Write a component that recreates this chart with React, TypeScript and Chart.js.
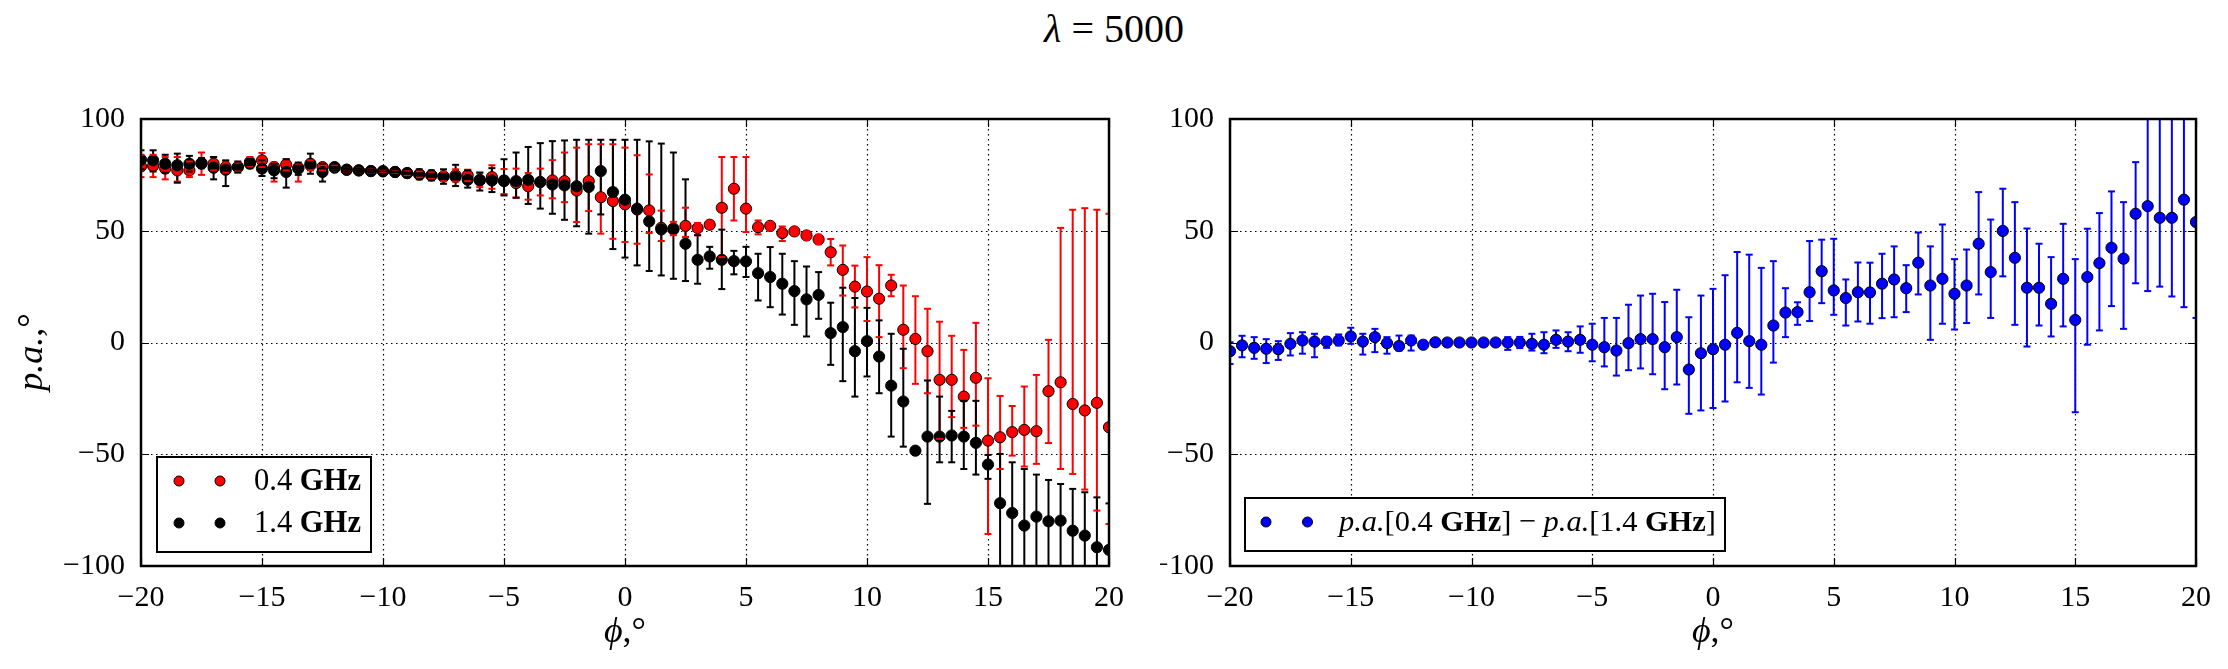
import React, { useEffect, useRef } from "react";
import { Chart, registerables } from "chart.js";

Chart.register(...registerables);

// ---------- data ----------
const phi = [
  -20, -19.5, -19, -18.5, -18, -17.5, -17, -16.5, -16, -15.5,
  -15, -14.5, -14, -13.5, -13, -12.5, -12, -11.5, -11, -10.5,
  -10, -9.5, -9, -8.5, -8, -7.5, -7, -6.5, -6, -5.5,
  -5, -4.5, -4, -3.5, -3, -2.5, -2, -1.5, -1, -0.5,
  0, 0.5, 1, 1.5, 2, 2.5, 3, 3.5, 4, 4.5,
  5, 5.5, 6, 6.5, 7, 7.5, 8, 8.5, 9, 9.5,
  10, 10.5, 11, 11.5, 12, 12.5, 13, 13.5, 14, 14.5,
  15, 15.5, 16, 16.5, 17, 17.5, 18, 18.5, 19, 19.5,
  20,
];

// p.a. at 0.4 GHz
const pa04 = [
  78.8, 79, 77.8, 77, 77, 80, 80, 78.5, 78.5, 80.7,
  81.5, 78.5, 79.6, 78.2, 79.3, 78.5, 78.2, 77.3, 77, 76.7,
  76.6, 76.3, 75.8, 75.2, 74.8, 74.3, 74.8, 74.8, 72.8, 74,
  72.2, 71.3, 69.9, 71.8, 72.5, 72.2, 68, 72.2, 65, 63.3,
  61.8, 59.5, 59.1, 51.3, 51, 52.2, 51.2, 52.7, 60.3, 68.8,
  59.9, 51.6, 52.2, 49, 49.7, 47.9, 46.1, 40.4, 32.5, 25,
  22.8, 19.6, 25.5, 5.7, 1.6, -3.9, -16.7, -16.7, -24.2, -15.8,
  -43.9, -42.4, -40.1, -39.1, -39.7, -21.8, -17.8, -27.5, -30.4, -27,
  -37.9,
];
const pa04Low = [
  74, 74, 73, 72, 74, 75, 77, 76, 76.5, 78.5,
  78.5, 72, 77, 72, 77, 77, 77, 76.5, 76.2, 75.9,
  75.8, 75.3, 74.6, 73.8, 73.2, 72.2, 72, 72.2, 69.5, 68.8,
  66.4, 64.8, 63.9, 65.8, 64.5, 62.8, 53.9, 58.8, 48.7, 46.4,
  45, 44.2, 49, 45.4, 48, 47.2, 48, 51, 38.2, 54.6,
  49.4, 48.4, 50.5, 45.4, 48, 46, 44, 34.5, 21, 15.7,
  9.6, 2.4, 20.7, -11.5, -18.5, -22.7, -43.1, -33.4, -38.2, -37.2,
  -85.7, -56.6, -50.6, -55.5, -54.3, -45, -56.6, -58.8, -65.8, -75.2,
  -81.2,
];
const pa04High = [
  84, 84, 83, 83, 81, 85, 83, 81, 80.5, 83,
  84.8, 80.5, 82, 80, 81.5, 80, 79.5, 78.1, 77.8, 77.5,
  77.4, 77.3, 77, 76.6, 76.4, 76.4, 77.5, 77.3, 76, 79.3,
  77.6, 77.8, 75.8, 77.8, 81.6, 85, 87.2, 88.7, 88.7, 88.7,
  87.2, 83.8, 75.2, 59, 54, 60.3, 53.5, 54.5, 83, 83,
  83, 54.6, 54, 51.9, 51.5, 49.8, 48.2, 46.3, 43.4, 34.4,
  38.2, 34.6, 30.3, 25.5, 20.7, 15.1, 9.3, 3, -3.3, 8.8,
  -16, -23.9, -28.4, -19.7, -14.5, 1.2, 51.3, 59.4, 60.1, 59.4,
  57.6,
];

// p.a. at 1.4 GHz
const pa14 = [
  81.8, 81.5, 80, 79.3, 80, 80.3, 78.2, 77.3, 78.5, 80,
  77.8, 77, 76.3, 77.8, 80, 76.3, 78.5, 77.3, 77, 76.7,
  76.6, 76.3, 75.8, 75.2, 74.8, 74.3, 74, 72.8, 72.5, 72.5,
  72.5, 72.2, 72.8, 71.8, 70.7, 70.3, 69.9, 69.6, 76.7, 67.3,
  63.9, 59.9, 54.2, 50.6, 50.6, 44.2, 37, 38.5, 37, 36.4,
  36.3, 31, 29.3, 26.3, 23, 19.3, 21.3, 4.2, 6.9, -3.9,
  0.6, -6.3, -19.3, -26.4, -48.4, -42.1, -42.1, -41.6, -42.1, -44.9,
  -54.6, -71.9, -76.3, -81.9, -77.9, -80, -79.7, -84.2, -86.4, -91.6,
  -92.8,
];
const pa14Low = [
  77.5, 76.5, 76, 71.5, 76.5, 78, 73, 70, 76, 78,
  74.5, 73.5, 69.3, 75, 75.5, 72, 77, 76.5, 76.3, 76,
  75.5, 75, 74, 73, 72.5, 71, 70, 69.3, 68, 67.3,
  65.8, 64.8, 62, 59.9, 57.6, 54.9, 52, 48.7, 57.3, 41.8,
  38, 34.5, 32, 30, 28.5, 27.5, 26.3, 33, 23.9, 30.5,
  29.3, 18.8, 15.8, 12.5, 7.9, 2.7, 10.6, -10, -17.3, -24.2,
  -15.2, -22.7, -42.1, -46.6, -48.4, -72.2, -53.6, -53.6, -56.6, -59.1,
  -61, -110, -110, -110, -110, -110, -110, -110, -110, -110,
  -110,
];
const pa14High = [
  86, 86, 84, 84.5, 83.5, 82.5, 83, 81.5, 81, 82,
  81.5, 80, 82, 80.5, 84.5, 80, 80, 78, 77.7, 77.4,
  77.7, 77.5, 77.5, 77.5, 77, 77.5, 79.5, 77, 76, 78,
  82, 85, 87.5, 89.2, 90.1, 90.4, 90.7, 90.7, 90.7, 90.7,
  90.7, 90.7, 90, 89, 85, 73, 48, 42.8, 50.5, 41,
  42.8, 39.7, 42.7, 39.7, 36.4, 34, 31.5, 17.8, 24.5, 19.9,
  15.5, 9.9, 3.9, -2.8, -48.4, -17, -24.2, -30.6, -26.1, -26.1,
  -50.3, -49.9, -53.6, -56.6, -59.1, -61.5, -63.3, -65.5, -67, -69.3,
  -72,
];

// difference p.a.[0.4] - p.a.[1.4]
const paDiff = [
  -3.9, -1.3, -2.4, -2.8, -3, -0.6, 0.9, 0.4, 0.4, 0.9,
  2.7, 0.4, 2.4, -0.3, -1.6, 0.9, -1, 0.1, 0, 0,
  0, 0, 0, 0, 0, -0.6, -1, 1.2, 0.4, 1.2,
  -1, -2.1, -3.6, -0.3, 1.5, 1.5, -2.1, 2.4, -12.1, -4.8,
  -3, -1, 4.3, 0.6, -1, 7.6, 13.4, 13.6, 22.5, 31.9,
  23.3, 19.9, 22.5, 22.4, 26.3, 28.2, 24.3, 35.7, 25.5, 28.5,
  21.8, 25.5, 44.2, 31.5, 49.9, 37.9, 24.5, 24.5, 17.3, 28.5,
  10.1, 29.3, 35.5, 42.4, 37.5, 57.6, 61, 55.8, 55.8, 63.9,
  53.9,
];
const paDiffLow = [
  -9.6, -6.6, -7.3, -9.2, -7.8, -5.8, -5, -6.6, -2.4, -1.3,
  -0.6, -5.4, -4.3, -5, -3.6, -3.6, -2.5, -1, -1, -1,
  -1, -1, -1.5, -3.3, -2.5, -3.6, -4.8, -2.4, -3.9, -4.6,
  -8.4, -10.7, -14.8, -12.4, -11.6, -14.2, -20.9, -18.8, -31.9, -30.4,
  -29.3, -26.4, -17.8, -20.3, -23.3, -9, 2.4, 7.9, 9.6, 17.6,
  12.4, 7.6, 9.4, 8.4, 10.9, 11.3, 13.6, 21.5, 1.2, 8.4,
  5.8, 8.7, 21.5, 11, 29.6, 7.9, -1.8, 7.6, 2.7, 7.2,
  -31.2, -1, 5.4, 16.3, 6.1, 26.5, 23, 25, 20.6, 15.8,
  11,
];
const paDiffHigh = [
  0.1, 3, 2.4, 1.5, 0.6, 4.2, 4.6, 3.9, 2.4, 3.6,
  6.6, 3.9, 6.1, 2.4, 3.1, 3.1, 0.5, 1.2, 1, 1,
  1, 1, 1.5, 2.4, 2.5, 3.9, 4.6, 5.4, 4.6, 7.2,
  8.4, 11, 11, 16.9, 21, 21.8, 18.1, 23.6, 11.3, 21,
  24, 30.1, 40.5, 39.3, 33.4, 36.4, 24.3, 18, 45.4, 46,
  46.4, 28.2, 35.8, 35.7, 39.7, 43, 34.6, 49.2, 43, 52.8,
  37.3, 41.6, 67.3, 55, 68.8, 62.8, 51, 44.2, 38.2, 53.1,
  37.3, 50.9, 57.9, 67.6, 62.8, 80.7, 110, 110, 110, 110,
  110,
];

const xTicks = [-20, -15, -10, -5, 0, 5, 10, 15, 20];
const yTicks = [-100, -50, 0, 50, 100];

// ---------- styling ----------
const FONT = '"Liberation Serif", "DejaVu Serif", serif';
const fmt = (v: number | string) => String(v).replace("-", "\u2212");

type Seg = { text: string; style: "normal" | "italic" | "bold" };
type Series = { color: string; values: number[]; lo: number[]; hi: number[]; legend: Seg[] };

type PanelCfg = {
  canvasLeft: number;
  canvasWidth: number;
  areaLeft: number;
  areaRight: number;
  series: Series[];
  showYTitle: boolean;
  legend: {
    dx: number;
    topFromBottom: number;
    width: number;
    height: number;
    markerDx: number[];
    textDx: number;
    rowFromBottom: number[];
    textWidth: number;
  };
};

const AREA_TOP = 119;
const AREA_BOTTOM = 566;
const H = 669;

function segFont(style: string, size: number) {
  if (style === "italic") return `italic ${size}px ${FONT}`;
  if (style === "bold") return `bold ${size}px ${FONT}`;
  return `${size}px ${FONT}`;
}

function drawSegs(ctx: CanvasRenderingContext2D, segs: Seg[], x: number, y: number, size: number) {
  let cx = x;
  for (const s of segs) {
    ctx.font = segFont(s.style, size);
    ctx.fillText(s.text, cx, y);
    cx += ctx.measureText(s.text).width;
  }
}
function segsWidth(ctx: CanvasRenderingContext2D, segs: Seg[], size: number) {
  let w = 0;
  for (const s of segs) {
    ctx.font = segFont(s.style, size);
    w += ctx.measureText(s.text).width;
  }
  return w;
}

function makePlugin(cfg: PanelCfg) {
  return {
    id: "panelDecor",
    beforeDatasetsDraw(chart: any) {
      const { ctx, chartArea: ca, scales } = chart;
      const xs = scales.x;
      const ys = scales.y;
      ctx.save();
      // dotted grid
      ctx.strokeStyle = "#000";
      ctx.lineWidth = 1.2;
      ctx.setLineDash([1.5, 3.5]);
      for (const t of xTicks) {
        const px = Math.round(xs.getPixelForValue(t)) + 0.5;
        if (px <= ca.left + 2 || px >= ca.right - 2) continue;
        ctx.beginPath();
        ctx.moveTo(px, ca.top);
        ctx.lineTo(px, ca.bottom);
        ctx.stroke();
      }
      for (const t of yTicks) {
        const py = Math.round(ys.getPixelForValue(t)) + 0.5;
        if (py <= ca.top + 2 || py >= ca.bottom - 2) continue;
        ctx.beginPath();
        ctx.moveTo(ca.left, py);
        ctx.lineTo(ca.right, py);
        ctx.stroke();
      }
      ctx.setLineDash([]);
      // error bar stems
      ctx.beginPath();
      ctx.rect(ca.left, ca.top, ca.right - ca.left, ca.bottom - ca.top);
      ctx.clip();
      ctx.lineWidth = 2;
      for (const s of cfg.series) {
        ctx.strokeStyle = s.color;
        for (let i = 0; i < phi.length; i++) {
          if (s.lo[i] === s.hi[i]) continue;
          const px = xs.getPixelForValue(phi[i]);
          ctx.beginPath();
          ctx.moveTo(px, ys.getPixelForValue(s.lo[i]));
          ctx.lineTo(px, ys.getPixelForValue(s.hi[i]));
          ctx.stroke();
        }
      }
      ctx.restore();
    },
    afterDatasetsDraw(chart: any) {
      const { ctx, chartArea: ca, scales } = chart;
      const xs = scales.x;
      const ys = scales.y;
      ctx.save();
      ctx.beginPath();
      ctx.rect(ca.left, ca.top, ca.right - ca.left, ca.bottom - ca.top);
      ctx.clip();
      // caps
      ctx.lineWidth = 2;
      for (const s of cfg.series) {
        ctx.strokeStyle = s.color;
        for (let i = 0; i < phi.length; i++) {
          if (s.lo[i] === s.hi[i]) continue;
          const px = xs.getPixelForValue(phi[i]);
          for (const v of [s.lo[i], s.hi[i]]) {
            const py = ys.getPixelForValue(v);
            ctx.beginPath();
            ctx.moveTo(px - 3.5, py);
            ctx.lineTo(px + 3.5, py);
            ctx.stroke();
          }
        }
      }
      ctx.restore();

      ctx.save();
      // inner tick marks
      ctx.strokeStyle = "#000";
      ctx.lineWidth = 1.2;
      const TL = 8;
      for (const t of xTicks) {
        const px = Math.round(xs.getPixelForValue(t)) + 0.5;
        ctx.beginPath();
        ctx.moveTo(px, ca.bottom);
        ctx.lineTo(px, ca.bottom - TL);
        ctx.moveTo(px, ca.top);
        ctx.lineTo(px, ca.top + TL);
        ctx.stroke();
      }
      for (const t of yTicks) {
        const py = Math.round(ys.getPixelForValue(t)) + 0.5;
        ctx.beginPath();
        ctx.moveTo(ca.left, py);
        ctx.lineTo(ca.left + TL, py);
        ctx.moveTo(ca.right, py);
        ctx.lineTo(ca.right - TL, py);
        ctx.stroke();
      }
      // frame
      ctx.lineWidth = 2.5;
      ctx.strokeRect(ca.left, ca.top, ca.right - ca.left, ca.bottom - ca.top);

      // legend
      const L = cfg.legend;
      const bx = ca.left + L.dx;
      const by = ca.bottom - L.topFromBottom;
      ctx.fillStyle = "#fff";
      ctx.fillRect(bx, by, L.width, L.height);
      ctx.strokeStyle = "#000";
      ctx.lineWidth = 2;
      ctx.strokeRect(bx, by, L.width, L.height);
      let maxW = 0;
      for (const s of cfg.series) maxW = Math.max(maxW, segsWidth(ctx, s.legend, 30));
      const fsize = (30 * L.textWidth) / maxW;
      cfg.series.forEach((s, k) => {
        const ry = ca.bottom - L.rowFromBottom[k];
        for (const mdx of L.markerDx) {
          ctx.beginPath();
          ctx.arc(ca.left + mdx, ry, 5, 0, Math.PI * 2);
          ctx.fillStyle = s.color;
          ctx.fill();
          ctx.lineWidth = 1;
          ctx.strokeStyle = "#000";
          ctx.stroke();
        }
        ctx.fillStyle = "#000";
        ctx.textBaseline = "middle";
        ctx.textAlign = "left";
        drawSegs(ctx, s.legend, ca.left + L.textDx, ry + 1, fsize);
      });

      // axis titles
      ctx.fillStyle = "#000";
      ctx.textBaseline = "middle";
      ctx.textAlign = "left";
      const xt: Seg[] = [
        { text: "\u03d5", style: "italic" },
        { text: ",\u00b0", style: "normal" },
      ];
      const xw = segsWidth(ctx, xt, 36);
      drawSegs(ctx, xt, (ca.left + ca.right) / 2 - xw / 2, 633, 36);
      if (cfg.showYTitle) {
        const yt: Seg[] = [
          { text: "p.a.", style: "italic" },
          { text: ",\u00b0", style: "normal" },
        ];
        const yw = segsWidth(ctx, yt, 36);
        ctx.translate(33, 352);
        ctx.rotate(-Math.PI / 2);
        drawSegs(ctx, yt, -yw / 2, 0, 36);
      }
      ctx.restore();
    },
  };
}

function Panel({ cfg }: { cfg: PanelCfg }) {
  const ref = useRef<HTMLCanvasElement | null>(null);
  useEffect(() => {
    if (!ref.current) return;
    const datasets = [...cfg.series].reverse().map((s) => ({
      data: phi.map((x, i) => ({ x, y: s.values[i] })),
      backgroundColor: s.color,
      borderColor: "#000",
      borderWidth: 1,
      pointRadius: 5.6,
      pointHoverRadius: 5.6,
      showLine: false,
      clip: 0,
    }));
    const tickFont = { family: FONT, size: 30 };
    const chart = new Chart(ref.current, {
      type: "scatter",
      data: { datasets },
      options: {
        responsive: false,
        animation: false,
        devicePixelRatio: 1,
        events: [],
        layout: {
          padding: { top: AREA_TOP, right: cfg.canvasWidth - cfg.areaRight, left: 0, bottom: 0 },
        },
        plugins: { legend: { display: false }, tooltip: { enabled: false } },
        scales: {
          x: {
            type: "linear",
            min: -20,
            max: 20,
            afterBuildTicks: (s: any) => {
              s.ticks = xTicks.map((v) => ({ value: v }));
            },
            ticks: { font: tickFont, color: "#000", padding: 6, maxRotation: 0, callback: (v: any) => fmt(v) },
            grid: { display: false },
            border: { display: false },
            afterFit: (s: any) => {
              s.height = H - AREA_BOTTOM;
            },
          },
          y: {
            type: "linear",
            min: -100,
            max: 100,
            afterBuildTicks: (s: any) => {
              s.ticks = yTicks.map((v) => ({ value: v }));
            },
            ticks: { font: tickFont, color: "#000", padding: 8, callback: (v: any) => fmt(v) },
            grid: { display: false },
            border: { display: false },
            afterFit: (s: any) => {
              s.width = cfg.areaLeft;
            },
          },
        },
      } as any,
      plugins: [makePlugin(cfg)],
    });
    return () => chart.destroy();
  }, [cfg]);
  return (
    <canvas
      ref={ref}
      width={cfg.canvasWidth}
      height={H}
      style={{ position: "absolute", left: cfg.canvasLeft, top: 0, width: cfg.canvasWidth, height: H }}
    />
  );
}

const leftCfg: PanelCfg = {
  canvasLeft: 0,
  canvasWidth: 1160,
  areaLeft: 141,
  areaRight: 1109,
  showYTitle: true,
  series: [
    {
      color: "#ff0000",
      values: pa04,
      lo: pa04Low,
      hi: pa04High,
      legend: [
        { text: "0.4 ", style: "normal" },
        { text: "GHz", style: "bold" },
      ],
    },
    {
      color: "#000000",
      values: pa14,
      lo: pa14Low,
      hi: pa14High,
      legend: [
        { text: "1.4 ", style: "normal" },
        { text: "GHz", style: "bold" },
      ],
    },
  ],
  legend: {
    dx: 16,
    topFromBottom: 109,
    width: 214,
    height: 95,
    markerDx: [38, 79],
    textDx: 113,
    rowFromBottom: [85, 43],
    textWidth: 107,
  },
};

const rightCfg: PanelCfg = {
  canvasLeft: 1160,
  canvasWidth: 1068,
  areaLeft: 70,
  areaRight: 1036,
  showYTitle: false,
  series: [
    {
      color: "#0000ff",
      values: paDiff,
      lo: paDiffLow,
      hi: paDiffHigh,
      legend: [
        { text: "p.a.", style: "italic" },
        { text: "[0.4 ", style: "normal" },
        { text: "GHz", style: "bold" },
        { text: "] \u2212 ", style: "normal" },
        { text: "p.a.", style: "italic" },
        { text: "[1.4 ", style: "normal" },
        { text: "GHz", style: "bold" },
        { text: "]", style: "normal" },
      ],
    },
  ],
  legend: {
    dx: 15,
    topFromBottom: 68,
    width: 480,
    height: 53,
    markerDx: [36, 77.5],
    textDx: 109,
    rowFromBottom: [44],
    textWidth: 377,
  },
};

export default function App() {
  return (
    <div style={{ position: "absolute", left: 0, top: 0, width: 2228, height: H, background: "#fff" }}>
      <div
        style={{
          position: "absolute",
          left: 0,
          top: 8,
          width: 2228,
          textAlign: "center",
          fontFamily: FONT,
          fontSize: 40,
          lineHeight: "42px",
          color: "#000",
        }}
      >
        <i>λ</i> = 5000
      </div>
      <Panel cfg={leftCfg} />
      <Panel cfg={rightCfg} />
    </div>
  );
}
